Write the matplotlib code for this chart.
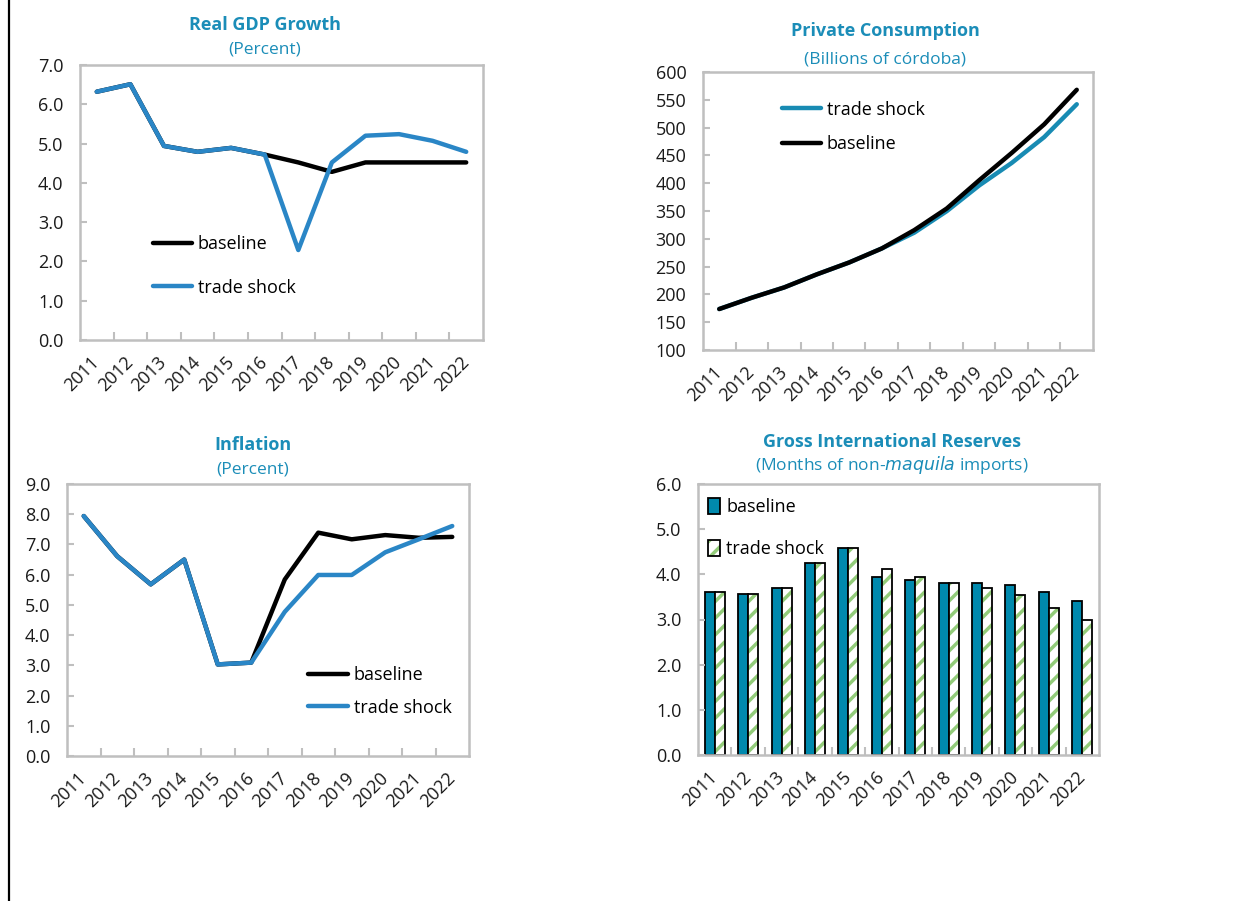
import matplotlib
matplotlib.use('Agg')
import matplotlib.pyplot as plt
import numpy as np
from matplotlib.patches import Patch
from matplotlib.lines import Line2D

plt.rcParams['font.family'] = ['Open Sans', 'DejaVu Sans']
plt.rcParams['hatch.linewidth'] = 2.5

years = ['2011', '2012', '2013', '2014', '2015', '2016',
         '2017', '2018', '2019', '2020', '2021', '2022']

gdp_base = [6.32, 6.51, 4.94, 4.79, 4.89, 4.72, 4.52, 4.28, 4.52, 4.52, 4.52, 4.52]
gdp_shock = [6.32, 6.51, 4.94, 4.79, 4.89, 4.72, 2.29, 4.52, 5.20, 5.24, 5.07, 4.79]

cons_base = [173.7, 194, 212.6, 236, 257.5, 282.6, 315.6, 354.5, 405.4, 454.5, 506, 568]
cons_shock = [173.7, 194, 212.6, 236, 257.5, 282.6, 311, 349.7, 396, 436.5, 483, 542]

infl_base = [7.94, 6.61, 5.68, 6.50, 3.03, 3.09, 5.84, 7.39, 7.17, 7.31, 7.22, 7.25]
infl_shock = [7.94, 6.61, 5.68, 6.50, 3.03, 3.09, 4.77, 5.99, 5.99, 6.74, 7.17, 7.61]

res_base = [3.61, 3.57, 3.69, 4.24, 4.59, 3.93, 3.88, 3.81, 3.81, 3.77, 3.61, 3.42]
res_shock = [3.61, 3.57, 3.69, 4.24, 4.59, 4.12, 3.93, 3.81, 3.69, 3.54, 3.26, 2.99]

title_col = '#1B8DB8'
blue = '#2A86C6'
teal = '#188BB3'
bar_col = '#0089AD'
green = '#93CC7A'
spine_col = '#BFBFBF'
fs = 13

fig = plt.figure(figsize=(12.4, 9.01), dpi=100)
fig.add_artist(Line2D([8.5/1240, 8.5/1240], [0, 1], color='black', lw=1.6))

x = np.arange(len(years))


def style(ax, ylim, yticks, fmt):
    ax.set_xlim(-0.5, len(years) - 0.5)
    ax.set_ylim(*ylim)
    ax.set_yticks(yticks)
    ax.set_yticklabels([fmt.format(v) for v in yticks], fontsize=fs, color='#1a1a1a')
    ax.set_xticks(x)
    ax.set_xticklabels(years, rotation=45, ha='right', va='center',
                       rotation_mode='anchor', fontsize=fs, color='#1a1a1a')
    ax.set_xticks(np.arange(0.5, len(years) - 1, 1), minor=True)
    ax.tick_params(axis='x', which='major', length=0, pad=14)
    ax.tick_params(axis='x', which='minor', direction='in', length=6, color=spine_col, width=1.5)
    ax.tick_params(axis='y', direction='in', length=5, color=spine_col, width=1.5, pad=12)
    for s in ax.spines.values():
        s.set_color(spine_col)
        s.set_linewidth(1.8)


def titles(xc, y1, y2, t1, t2):
    fig.text(xc / 1240, 1 - y1 / 901, t1, ha='center', va='center',
             fontsize=13, fontweight='bold', color=title_col)
    fig.text(xc / 1240, 1 - y2 / 901, t2, ha='center', va='center',
             fontsize=12.5, color=title_col)


leg_kw = dict(frameon=False, fontsize=fs, handlelength=2.2, handletextpad=0.3)

# Real GDP growth
ax1 = fig.add_axes([80/1240, 1-340/901, 403/1240, 275/901])
ax1.plot(x, gdp_base, color='black', lw=3.2, solid_capstyle='round', label='baseline')
ax1.plot(x, gdp_shock, color=blue, lw=3.2, solid_capstyle='round', label='trade shock')
style(ax1, (0, 7), np.arange(0, 7.1, 1), '{:.1f}')
ax1.legend(loc='upper left', bbox_to_anchor=(0.14, 0.44), labelspacing=1.4, **leg_kw)
titles(265, 25, 50, 'Real GDP Growth', '(Percent)')

# Private consumption
ax2 = fig.add_axes([703/1240, 1-350/901, 390/1240, 278/901])
ax2.plot(x, cons_shock, color=teal, lw=3.2, solid_capstyle='round', label='trade shock')
ax2.plot(x, cons_base, color='black', lw=3.2, solid_capstyle='round', label='baseline')
style(ax2, (100, 600), np.arange(100, 601, 50), '{:.0f}')
ax2.legend(loc='upper left', bbox_to_anchor=(0.16, 0.955), labelspacing=0.9, **leg_kw)
titles(885, 31, 60, 'Private Consumption', '(Billions of córdoba)')

# Inflation
ax3 = fig.add_axes([67/1240, 1-756/901, 402/1240, 272/901])
ax3.plot(x, infl_base, color='black', lw=3.2, solid_capstyle='round', label='baseline')
ax3.plot(x, infl_shock, color=blue, lw=3.2, solid_capstyle='round', label='trade shock')
style(ax3, (0, 9), np.arange(0, 9.1, 1), '{:.1f}')
ax3.legend(loc='upper left', bbox_to_anchor=(0.56, 0.39), labelspacing=0.8, **leg_kw)
titles(253, 445, 470, 'Inflation', '(Percent)')

# Gross international reserves
ax4 = fig.add_axes([698/1240, 1-755/901, 401/1240, 271/901])
w = 0.3
ax4.bar(x - w/2, res_base, w, color=bar_col, edgecolor='black', lw=1.3)
ax4.bar(x + w/2, res_shock, w, color='white', edgecolor=green, hatch='//', lw=0)
ax4.bar(x + w/2, res_shock, w, fill=False, edgecolor='black', lw=1.3)
style(ax4, (0, 6), np.arange(0, 6.1, 1), '{:.1f}')
h1 = Patch(facecolor=bar_col, edgecolor='black', lw=1.3)
h2 = (Patch(facecolor='white', edgecolor=green, hatch='//', lw=0),
      Patch(fill=False, edgecolor='black', lw=1.3))
ax4.legend([h1, h2], ['baseline', 'trade shock'], loc='upper left', bbox_to_anchor=(-0.015, 1.01),
           frameon=False, fontsize=fs, handlelength=0.65, handleheight=1.0,
           handletextpad=0.35, labelspacing=1.35)
titles(892, 442, 465, 'Gross International Reserves', '(Months of non-$\\it{maquila}$ imports)')

fig.savefig('out.png', dpi=100)
